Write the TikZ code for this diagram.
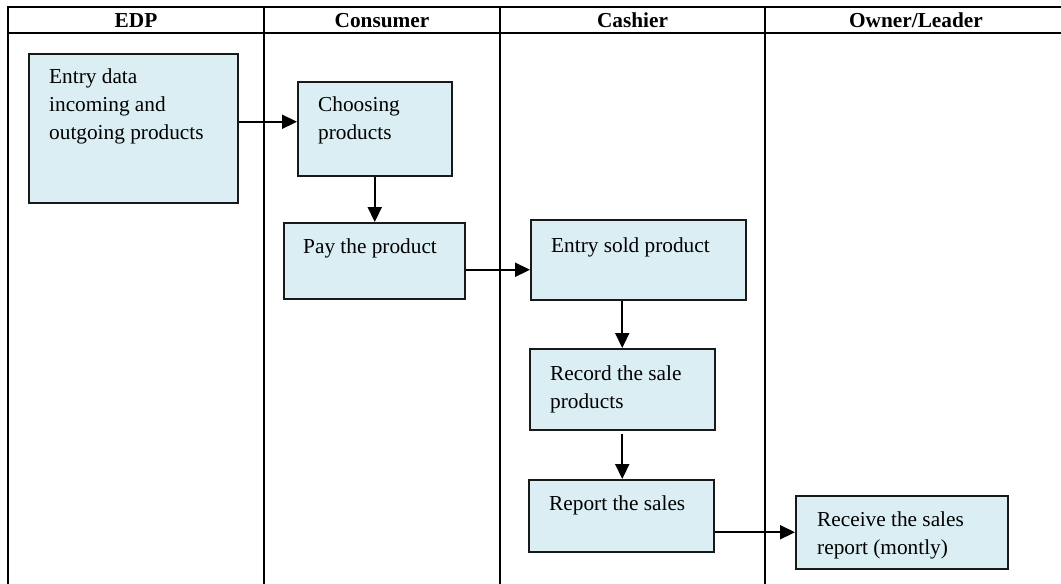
\documentclass[tikz,border=0pt]{standalone}
\usepackage{fontspec}
\setmainfont{Liberation Serif}
\usetikzlibrary{arrows.meta,calc}
\definecolor{boxfill}{HTML}{DAEEF3}
\begin{document}
\begin{tikzpicture}[x=1pt,y=-1pt,
  lane/.style={line width=2pt},
  procbox/.style={draw=black!90, line width=1.5pt, fill=boxfill, rectangle, anchor=north west, inner sep=0pt},
  boxtext/.style={anchor=north west, inner sep=0pt, align=left, font=\fontsize{21.3}{28}\selectfont},
  headtext/.style={anchor=base, inner sep=0pt, font=\fontsize{21.3}{26}\selectfont\bfseries},
  arr/.style={line width=2.2pt, -{Triangle[length=15pt,width=14pt]}}]
\useasboundingbox (0,0) rectangle (1061,584);
\clip (0,0) rectangle (1061,584);
% swimlane frame
\draw[lane] (8,7) rectangle (1067,620);
\draw[lane] (8,33) -- (1067,33);
\draw[lane] (264,7) -- (264,620);
\draw[lane] (500,7) -- (500,620);
\draw[lane] (765,7) -- (765,620);
% headers
\node[headtext] (hEDP) at (136,27) {EDP};
\node[headtext] (hCon) at (382,27) {Consumer};
\node[headtext] (hCas) at (632.5,27) {Cashier};
\node[headtext] (hOwn) at (916,27) {Owner/Leader};
% boxes
\node[procbox, minimum width=209, minimum height=149] (edp) at (28,53) {};
\node[procbox, minimum width=154, minimum height=94] (chs) at (297,81) {};
\node[procbox, minimum width=181, minimum height=76] (pay) at (283,222) {};
\node[procbox, minimum width=215, minimum height=80] (ent) at (530,219) {};
\node[procbox, minimum width=185, minimum height=81] (rec) at (529,348) {};
\node[procbox, minimum width=185, minimum height=72] (rep) at (528,479) {};
\node[procbox, minimum width=212, minimum height=73] (rcv) at (795,495) {};
% box texts
\node[boxtext] (edpT) at ($(edp.north west)+(21,10)$) {\rule{0pt}{20pt}Entry data\\incoming and\\outgoing products};
\node[boxtext] (chsT) at ($(chs.north west)+(21,10)$) {\rule{0pt}{20pt}Choosing\\products};
\node[boxtext] (payT) at ($(pay.north west)+(20,11)$) {\rule{0pt}{20pt}Pay the product};
\node[boxtext] (entT) at ($(ent.north west)+(21,13)$) {\rule{0pt}{20pt}Entry sold product};
\node[boxtext] (recT) at ($(rec.north west)+(21,12)$) {\rule{0pt}{20pt}Record the sale\\products};
\node[boxtext] (repT) at ($(rep.north west)+(21,11)$) {\rule{0pt}{20pt}Report the sales};
\node[boxtext] (rcvT) at ($(rcv.north west)+(22,11)$) {\rule{0pt}{20pt}Receive the sales\\report (montly)};
% connectors
\draw[arr] ([yshift=6.5pt]edp.east) -- ([yshift=6.5pt]edp.east -| chs.west);
\draw[arr] (chs.south) -- (chs.south |- pay.north);
\draw[arr] ([yshift=-9pt]pay.east) -- ([yshift=-9pt]pay.east -| ent.west);
\draw[arr] (rec.north |- ent.south) -- (rec.north);
\draw[arr] ([yshift=-3pt]rec.south) -- (rep.north -| rec.south);
\draw[arr] (rep.east |- rcv.west) -- (rcv.west);
\end{tikzpicture}
\end{document}
